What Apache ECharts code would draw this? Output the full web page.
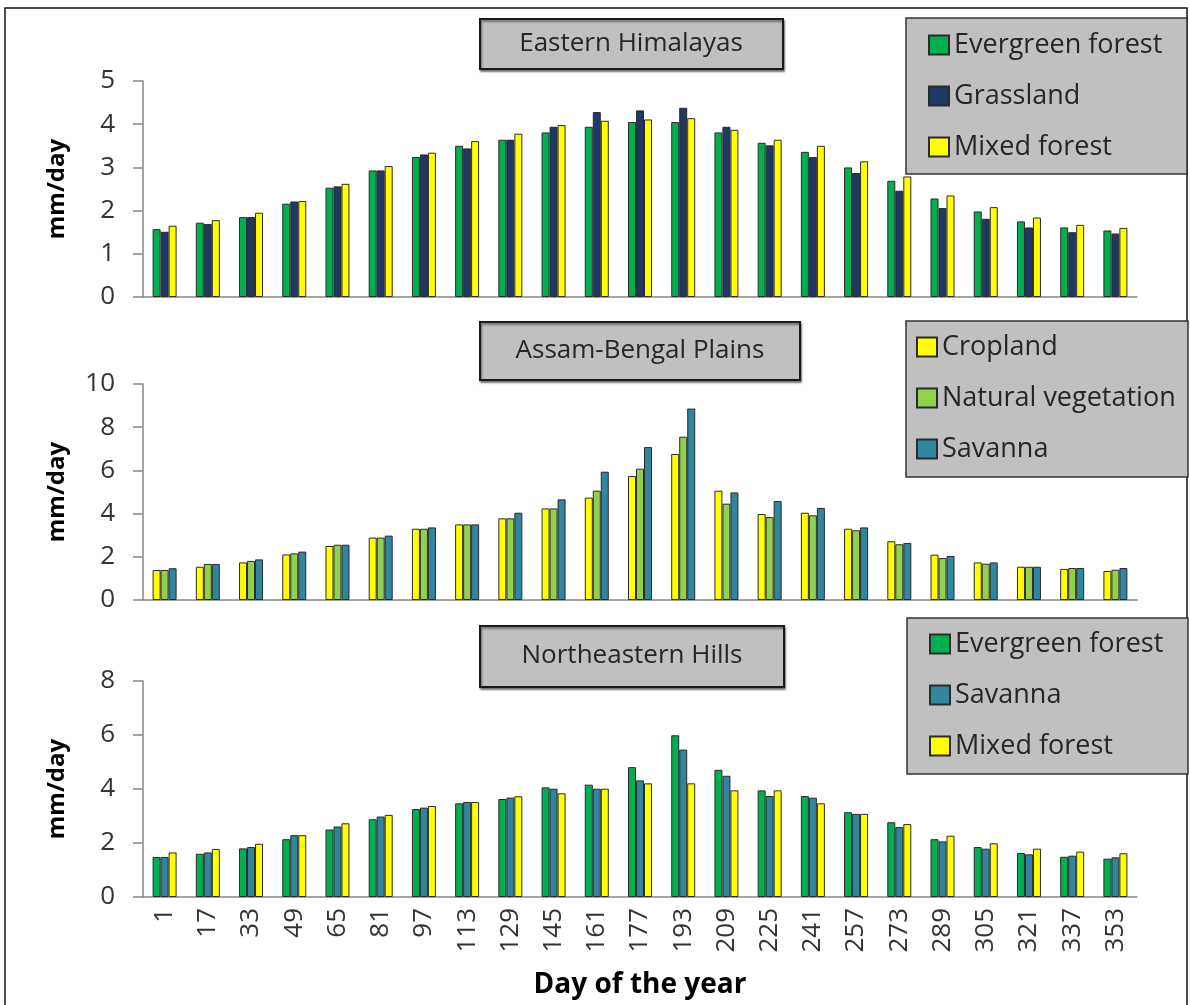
<!DOCTYPE html>
<html>
<head>
<meta charset="utf-8">
<script src="https://cdn.jsdelivr.net/npm/echarts@6/dist/echarts.min.js"></script>
<style>
  html, body { margin: 0; padding: 0; background: #ffffff; }
  #chart { width: 1190px; height: 1005px; }
</style>
</head>
<body>
<div id="chart"></div>
<script>
// Day of the year (16-day composites)
const days = [1, 17, 33, 49, 65, 81, 97, 113, 129, 145, 161, 177, 193, 209, 225, 241, 257, 273, 289, 305, 321, 337, 353];

// Eastern Himalayas, mm/day
const ehEvergreen = [1.57, 1.72, 1.85, 2.16, 2.53, 2.93, 3.24, 3.50, 3.64, 3.81, 3.94, 4.05, 4.05, 3.81, 3.57, 3.36, 3.00, 2.69, 2.28, 1.98, 1.75, 1.61, 1.54];
const ehGrassland = [1.51, 1.69, 1.85, 2.21, 2.56, 2.93, 3.30, 3.44, 3.64, 3.94, 4.28, 4.32, 4.38, 3.94, 3.51, 3.24, 2.87, 2.46, 2.06, 1.81, 1.61, 1.50, 1.47];
const ehMixed     = [1.65, 1.78, 1.95, 2.22, 2.62, 3.03, 3.34, 3.61, 3.78, 3.98, 4.08, 4.11, 4.14, 3.87, 3.64, 3.50, 3.14, 2.79, 2.35, 2.08, 1.84, 1.67, 1.60];

// Assam-Bengal Plains, mm/day
const abCropland = [1.39, 1.54, 1.74, 2.11, 2.50, 2.89, 3.30, 3.50, 3.78, 4.24, 4.74, 5.74, 6.76, 5.06, 3.98, 4.04, 3.30, 2.72, 2.10, 1.74, 1.54, 1.44, 1.34];
const abNatural  = [1.39, 1.67, 1.81, 2.16, 2.56, 2.89, 3.30, 3.50, 3.78, 4.24, 5.06, 6.08, 7.56, 4.46, 3.84, 3.92, 3.23, 2.58, 1.94, 1.68, 1.54, 1.48, 1.40];
const abSavanna  = [1.47, 1.67, 1.88, 2.24, 2.56, 2.98, 3.36, 3.50, 4.04, 4.66, 5.94, 7.08, 8.86, 4.98, 4.58, 4.26, 3.36, 2.64, 2.04, 1.74, 1.54, 1.48, 1.48];

// Northeastern Hills, mm/day
const neEvergreen = [1.48, 1.60, 1.80, 2.14, 2.50, 2.88, 3.26, 3.47, 3.63, 4.06, 4.16, 4.81, 5.99, 4.71, 3.95, 3.74, 3.14, 2.77, 2.14, 1.85, 1.63, 1.49, 1.42];
const neSavanna   = [1.48, 1.65, 1.85, 2.29, 2.61, 2.98, 3.31, 3.52, 3.68, 4.01, 4.01, 4.32, 5.46, 4.49, 3.74, 3.68, 3.08, 2.59, 2.06, 1.79, 1.58, 1.53, 1.47];
const neMixed     = [1.65, 1.78, 1.97, 2.29, 2.73, 3.04, 3.37, 3.52, 3.73, 3.84, 4.01, 4.21, 4.21, 3.95, 3.95, 3.47, 3.08, 2.70, 2.27, 1.99, 1.79, 1.68, 1.62];

// Panel titles and y-axis ranges
const panelTitles = ['Eastern Himalayas', 'Assam-Bengal Plains', 'Northeastern Hills'];
const yMax = [5, 10, 8];
const yStep = [1, 2, 2];

const FONT = '"Open Sans", "Liberation Sans", sans-serif';
const C = {
  evergreen: '#00B050',
  grassland: '#1F3864',
  yellow: '#FFFF00',
  natural: '#92D050',
  savanna: '#31859C'
};

const gridTops = [81, 384, 681];
const grids = gridTops.map(t => ({ left: 143, right: 53, top: t, height: 216 }));

const xAxes = grids.map((g, i) => ({
  type: 'category',
  gridIndex: i,
  data: days.map(String),
  axisLine: { show: true, lineStyle: { color: '#868686', width: 1.5 } },
  axisTick: { show: false },
  axisLabel: {
    show: i === 2,
    rotate: 90,
    interval: 0,
    margin: 11,
    fontFamily: FONT,
    fontSize: 26,
    color: '#333333'
  },
  name: i === 2 ? 'Day of the year' : '',
  nameLocation: 'middle',
  nameGap: 74,
  nameTextStyle: { fontFamily: FONT, fontSize: 28, fontWeight: 'bold', color: '#000' }
}));

const yAxes = grids.map((g, i) => ({
  type: 'value',
  gridIndex: i,
  min: 0,
  max: yMax[i],
  interval: yStep[i],
  splitLine: { show: false },
  axisLine: { show: true, lineStyle: { color: '#868686', width: 1.5 } },
  axisTick: { show: true, length: 10, lineStyle: { color: '#868686', width: 1.5 } },
  axisLabel: { margin: 28, fontFamily: FONT, fontSize: 26, color: '#333333' },
  name: 'mm/day',
  nameLocation: 'middle',
  nameGap: 74,
  nameTextStyle: { fontFamily: FONT, fontSize: 24, fontWeight: 'bold', color: '#000' }
}));

function bars(name, data, color, idx) {
  return {
    name: name,
    type: 'bar',
    xAxisIndex: idx,
    yAxisIndex: idx,
    data: data,
    barWidth: 8,
    barGap: '0%',
    itemStyle: { color: color, borderColor: '#2b2b2b', borderWidth: 1 },
    emphasis: { disabled: true }
  };
}

const series = [
  bars('Evergreen forest', ehEvergreen, C.evergreen, 0),
  bars('Grassland', ehGrassland, C.grassland, 0),
  bars('Mixed forest', ehMixed, C.yellow, 0),
  bars('Cropland', abCropland, C.yellow, 1),
  bars('Natural vegetation', abNatural, C.natural, 1),
  bars('Savanna', abSavanna, C.savanna, 1),
  bars('Evergreen forest', neEvergreen, C.evergreen, 2),
  bars('Savanna', neSavanna, C.savanna, 2),
  bars('Mixed forest', neMixed, C.yellow, 2)
];

function legend(names, left, top) {
  return {
    data: names,
    orient: 'vertical',
    left: left,
    top: top,
    padding: 0,
    itemWidth: 20,
    itemHeight: 19,
    itemGap: 23,
    icon: 'rect',
    selectedMode: false,
    textStyle: { fontFamily: FONT, fontSize: 27, lineHeight: 28, color: '#262626' }
  };
}

const legends = [
  legend(['Evergreen forest', 'Grassland', 'Mixed forest'], 928, 31),
  legend(['Cropland', 'Natural vegetation', 'Savanna'], 916, 333),
  legend(['Evergreen forest', 'Savanna', 'Mixed forest'], 929, 630)
];

// grey boxes behind the panel titles and legends, plus the outer frame
const boxStyle = { fill: '#C0C0C0', stroke: '#1a1a1a', lineWidth: 2 };
const titleBoxes = [
  { x: 480, y: 19, w: 303, h: 50, cx: 631, cy: 44 },
  { x: 480, y: 322, w: 320, h: 58, cx: 640, cy: 351 },
  { x: 480, y: 626, w: 304, h: 61, cx: 632, cy: 656 }
];
const legendBoxes = [
  { x: 906, y: 18, w: 281, h: 156 },
  { x: 906, y: 321, w: 282, h: 156 },
  { x: 907, y: 618, w: 281, h: 156 }
];

const graphic = [
  {
    type: 'rect', z: 0, silent: true,
    shape: { x: 5, y: 8, width: 1182, height: 1020 },
    style: { fill: 'none', stroke: '#111', lineWidth: 1.5 }
  }
];
titleBoxes.forEach((b, i) => {
  graphic.push({
    type: 'rect', z: 1, silent: true,
    shape: { x: b.x, y: b.y, width: b.w, height: b.h },
    style: Object.assign({ shadowColor: 'rgba(0,0,0,0.45)', shadowBlur: 2, shadowOffsetX: 1, shadowOffsetY: 2 }, boxStyle)
  });
  graphic.push({
    type: 'text', z: 2, silent: true,
    x: b.cx, y: b.cy,
    style: {
      text: panelTitles[i], fontFamily: FONT, fontSize: 26, fill: '#262626',
      textAlign: 'center', textVerticalAlign: 'middle'
    }
  });
});
legendBoxes.forEach(b => {
  graphic.push({
    type: 'rect', z: 1, silent: true,
    shape: { x: b.x, y: b.y, width: b.w, height: b.h },
    style: Object.assign({}, boxStyle, { lineWidth: 1.5, stroke: '#333' })
  });
});

const chart = echarts.init(document.getElementById('chart'), null, { renderer: 'canvas' });
chart.setOption({
  backgroundColor: '#ffffff',
  animation: false,
  grid: grids,
  xAxis: xAxes,
  yAxis: yAxes,
  legend: legends,
  graphic: graphic,
  series: series
});
</script>
</body>
</html>
